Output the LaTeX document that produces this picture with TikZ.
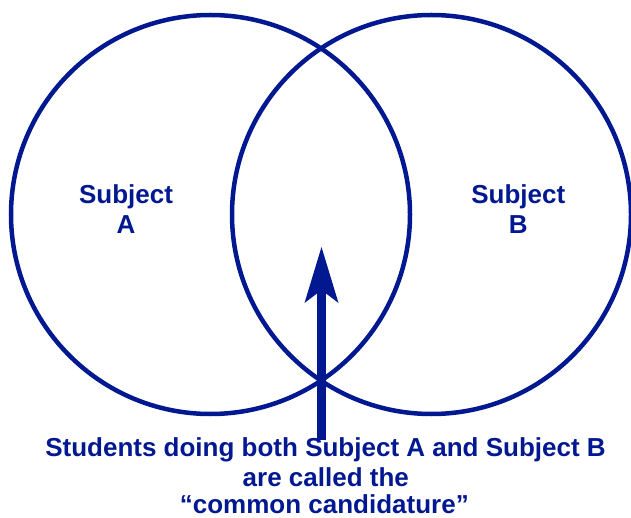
\documentclass[tikz,border=0pt]{standalone}
\usepackage{fontspec}
\setmainfont{Liberation Sans}
\usetikzlibrary{arrows.meta}
\definecolor{vennblue}{RGB}{2,24,145}
\tikzset{
  venn/.style={draw=vennblue, line width=4.5pt},
  lbl/.style={text=vennblue, inner sep=0pt, anchor=base, font=\fontsize{26}{30}\selectfont\bfseries},
  pointer/.style={draw=vennblue, line width=8.5pt,
    -{Stealth[length=56pt, width=34pt, inset=13pt, line width=0pt, fill=vennblue]}}
}
\begin{document}
\begin{tikzpicture}[x=1pt,y=-1pt]
\useasboundingbox (0,0) rectangle (631,518);
\draw[venn] (210.5,214.5) circle[radius=199.5pt];
\draw[venn] (431.5,214.5) circle[radius=199.5pt];
\node[lbl] (sa1) at (126,203.3) {Subject};
\node[lbl] (sa2) at (126,233.3) {A};
\node[lbl] (sb1) at (518.3,203.3) {Subject};
\node[lbl] (sb2) at (518.3,233.3) {B};
\node[lbl] (t1) at (325.5,456.7) {Students doing both Subject A and Subject B};
\node[lbl] (t2) at (325.8,486.7) {are called the};
\node[lbl, text depth=0pt] (t3) at (324.3,513.5) {“common candidature”};
\coordinate (tail) at (321.5,440);
\coordinate (tip) at (321.5,247);
\draw[pointer] (tail) -- (tip);
\end{tikzpicture}
\end{document}
